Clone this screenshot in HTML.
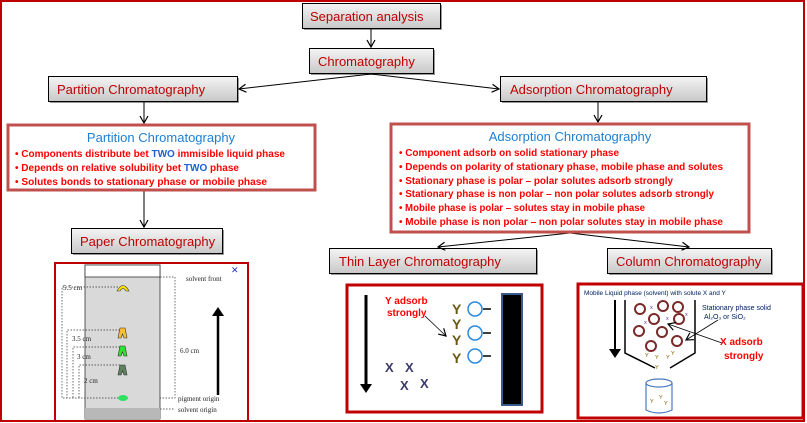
<!DOCTYPE html>
<html><head><meta charset="utf-8"><style>
body{margin:0;background:#fff;}
svg{display:block;font-family:"Liberation Sans",sans-serif;}
</style></head><body>
<svg width="807" height="423" viewBox="0 0 807 423" xmlns="http://www.w3.org/2000/svg">
<defs>
<linearGradient id="g" x1="0" y1="0" x2="0" y2="1"><stop offset="0" stop-color="#f4f4f4"/><stop offset="1" stop-color="#c8c8c8"/></linearGradient>
<marker id="a" markerWidth="10" markerHeight="10" refX="8" refY="5" orient="auto" markerUnits="userSpaceOnUse"><path d="M1,1 L8,5 L1,9" fill="none" stroke="#000" stroke-width="1.2"/></marker>
<marker id="b" markerWidth="12" markerHeight="12" refX="6" refY="6" orient="auto" markerUnits="userSpaceOnUse"><path d="M0,0 L9,6 L0,12 Z" fill="#000"/></marker>
</defs>
<rect x="1" y="1" width="803" height="420" fill="none" stroke="#c00000" stroke-width="2"/>

<g fill="#999">
<rect x="304" y="5" width="138" height="25"/>
<rect x="311" y="50" width="124" height="25"/>
<rect x="50" y="78" width="189" height="25"/>
<rect x="502" y="78" width="206" height="25"/>
<rect x="73" y="230" width="151" height="25"/>
<rect x="331" y="250" width="207" height="25"/>
<rect x="609" y="250" width="164" height="25"/>
</g>
<g stroke="#000" stroke-width="1" fill="url(#g)">
<rect x="302.5" y="3.5" width="138" height="25"/>
<rect x="309.5" y="48.5" width="124" height="25"/>
<rect x="48.5" y="76.5" width="189" height="25"/>
<rect x="500.5" y="76.5" width="206" height="25"/>
<rect x="71.5" y="228.5" width="151" height="25"/>
<rect x="329.5" y="248.5" width="207" height="25"/>
<rect x="607.5" y="248.5" width="164" height="25"/>
</g>
<g fill="#c00000" font-size="13">
<text x="310" y="21">Separation analysis</text>
<text x="318" y="66">Chromatography</text>
<text x="57" y="94">Partition Chromatography</text>
<text x="510" y="94">Adsorption Chromatography</text>
<text x="80" y="246">Paper Chromatography</text>
<text x="339" y="266">Thin Layer Chromatography</text>
<text x="616" y="266">Column Chromatography</text>
</g>

<g stroke="#000" stroke-width="1" fill="none">
<line x1="371" y1="29" x2="371" y2="47" marker-end="url(#a)"/>
<line x1="371" y1="74" x2="239" y2="89" marker-end="url(#a)"/>
<line x1="371" y1="74" x2="499" y2="89" marker-end="url(#a)"/>
<line x1="144" y1="102" x2="144" y2="123" marker-end="url(#a)"/>
<line x1="598" y1="102" x2="598" y2="122" marker-end="url(#a)"/>
<line x1="144" y1="191" x2="144" y2="227" marker-end="url(#a)"/>
<line x1="570" y1="233" x2="438" y2="247" marker-end="url(#a)"/>
<line x1="570" y1="233" x2="689" y2="247" marker-end="url(#a)"/>
</g>

<rect x="8" y="125" width="307" height="65" fill="#fff" stroke="#c0504d" stroke-width="3"/>
<text x="161" y="142" text-anchor="middle" font-size="13" fill="#1f7fd0">Partition Chromatography</text>
<g font-size="10" font-weight="bold" fill="#ff0000">
<text x="15" y="157" textLength="270" lengthAdjust="spacingAndGlyphs">• Components distribute bet <tspan fill="#2060d0">TWO</tspan> immisible liquid phase</text>
<text x="15" y="171" textLength="224" lengthAdjust="spacingAndGlyphs">• Depends on relative solubility bet <tspan fill="#2060d0">TWO</tspan> phase</text>
<text x="15" y="185" textLength="252" lengthAdjust="spacingAndGlyphs">• Solutes bonds  to stationary phase  or mobile phase</text>
</g>

<rect x="391" y="124" width="358" height="108" fill="#fff" stroke="#c0504d" stroke-width="3"/>
<text x="570" y="141" text-anchor="middle" font-size="13" fill="#1f7fd0">Adsorption  Chromatography</text>
<g font-size="10" font-weight="bold" fill="#ff0000">
<text x="399" y="156" textLength="220" lengthAdjust="spacingAndGlyphs">• Component adsorb on solid stationary phase</text>
<text x="399" y="170" textLength="324" lengthAdjust="spacingAndGlyphs">• Depends on polarity of stationary phase, mobile phase and solutes</text>
<text x="399" y="184" textLength="274" lengthAdjust="spacingAndGlyphs">• Stationary phase is polar – polar solutes adsorb strongly</text>
<text x="399" y="197" textLength="315" lengthAdjust="spacingAndGlyphs">• Stationary phase is non polar – non polar solutes adsorb strongly</text>
<text x="399" y="211" textLength="246" lengthAdjust="spacingAndGlyphs">• Mobile phase is polar – solutes stay in mobile phase</text>
<text x="399" y="225" textLength="324" lengthAdjust="spacingAndGlyphs">• Mobile phase is non polar – non polar solutes stay in mobile phase</text>
</g>

<rect x="55" y="263" width="193" height="158" fill="#fff" stroke="#c00000" stroke-width="2"/>
<rect x="85" y="265" width="75" height="154" fill="#d9d9d9" stroke="#333" stroke-width="0.8"/>
<rect x="85" y="265" width="75" height="12" fill="#fff" stroke="#333" stroke-width="0.8"/>
<rect x="85" y="408" width="75" height="11" fill="#b8b8b8"/>
<g stroke="#333" stroke-width="0.7" stroke-dasharray="1.5,1.5" fill="none">
<path d="M160,277 H175 V398 H160"/>
<path d="M118,287 H62 V398 H118"/>
<path d="M120,330 H67 V398"/>
<path d="M120,347 H73 V398"/>
<path d="M120,365 H79 V398"/>
<path d="M160,409 H175"/>
</g>
<g font-family="Liberation Serif,serif" font-size="7" fill="#222">
<text x="186" y="281">solvent front</text>
<text x="63" y="290">5.5 cm</text>
<text x="72" y="341">3.5 cm</text>
<text x="77" y="359">3 cm</text>
<text x="84" y="383">2 cm</text>
<text x="180" y="353">6.0 cm</text>
<text x="178" y="401">pigment origin</text>
<text x="178" y="412">solvent origin</text>
</g>
<text x="231" y="273" font-size="9" fill="#2030c0">✕</text>
<path d="M117,291 Q123,280 129,291 L126,291 Q123,286 120,291Z" fill="#ffe000" stroke="#333" stroke-width="0.6"/>
<path d="M118,338 L120,328 L125,328 L127,338 L124,338 L122.5,334 L121,338Z" fill="#f8c030" stroke="#333" stroke-width="0.6"/>
<path d="M118,356 L120,346 L125,346 L127,356 L124,356 L122.5,352 L121,356Z" fill="#30e030" stroke="#333" stroke-width="0.6"/>
<path d="M118,375 L120,365 L125,365 L127,375 L124,375 L122.5,371 L121,375Z" fill="#608060" stroke="#333" stroke-width="0.6"/>
<ellipse cx="123" cy="398" rx="5" ry="3" fill="#30e060"/>
<line x1="218" y1="395" x2="218" y2="310" stroke="#000" stroke-width="2.5" marker-end="url(#b)"/>

<rect x="347" y="285" width="195" height="127" fill="#fff" stroke="#c00000" stroke-width="3"/>
<line x1="366" y1="295" x2="366" y2="390" stroke="#000" stroke-width="3" marker-end="url(#b)"/>
<text x="385" y="304" font-size="10" font-weight="bold" fill="#ff0000">Y adsorb</text>
<text x="387" y="316" font-size="10" font-weight="bold" fill="#ff0000">strongly</text>
<line x1="425" y1="316" x2="446" y2="336" stroke="#000" stroke-width="0.8" marker-end="url(#a)"/>
<rect x="502" y="294" width="20" height="111" fill="#000" stroke="#3a5a8a" stroke-width="2"/>
<g font-size="14" font-weight="bold" fill="#6a5a10">
<text x="452" y="314">Y</text><text x="452" y="329">Y</text><text x="452" y="345">Y</text><text x="452" y="363">Y</text>
</g>
<g fill="none" stroke="#2a8ae0" stroke-width="1.5">
<circle cx="475" cy="309" r="7"/><circle cx="475" cy="333" r="7"/><circle cx="475" cy="356" r="7"/>
</g>
<g stroke="#000" stroke-width="1.5"><line x1="483" y1="309" x2="491" y2="309"/><line x1="483" y1="333" x2="491" y2="333"/><line x1="483" y1="356" x2="491" y2="356"/></g>
<g font-size="13" font-weight="bold" fill="#3a3a6a">
<text x="385" y="372">X</text><text x="405" y="372">X</text><text x="400" y="390">X</text><text x="420" y="388">X</text>
</g>

<rect x="578" y="284" width="225" height="134" fill="#fff" stroke="#c00000" stroke-width="3"/>
<text x="584" y="295" font-size="6.5" fill="#002060">Mobile Liquid phase (solvent) with solute X and Y</text>
<line x1="615" y1="300" x2="615" y2="355" stroke="#000" stroke-width="2" marker-end="url(#b)"/>
<path d="M625,300 V353 L655,368 M695,300 V353 L670,368" fill="none" stroke="#000" stroke-width="1.5"/>
<g fill="none" stroke="#7a2a2a" stroke-width="2">
<circle cx="640" cy="309" r="5"/><circle cx="663" cy="306" r="5"/><circle cx="678" cy="307" r="5"/>
<circle cx="654" cy="319" r="5"/><circle cx="679" cy="319" r="5"/><circle cx="639" cy="331" r="5"/>
<circle cx="662" cy="332" r="5"/><circle cx="651" cy="346" r="5"/><circle cx="677" cy="341" r="5"/>
</g>
<g font-size="5.5" fill="#7030a0"><text x="650" y="309">x</text><text x="644" y="324">x</text><text x="666" y="320">x</text><text x="685" y="316">x</text></g>
<g font-size="5.5" fill="#806000"><text x="645" y="357">Y</text><text x="655" y="359">Y</text><text x="666" y="359">Y</text><text x="671" y="355">Y</text><text x="655" y="369">Y</text></g>
<text x="702" y="310" font-size="7" fill="#002060">Stationary phase solid</text>
<text x="704" y="319" font-size="7" fill="#002060">Al₂O₃ or SiO₂</text>
<line x1="718" y1="320" x2="686" y2="340" stroke="#000" stroke-width="0.8" marker-end="url(#a)"/>
<line x1="722" y1="343" x2="668" y2="324" stroke="#000" stroke-width="0.8" marker-end="url(#a)"/>
<text x="720" y="345" font-size="10" font-weight="bold" fill="#ff0000">X adsorb</text>
<text x="724" y="359" font-size="10" font-weight="bold" fill="#ff0000">strongly</text>
<path d="M646,383 V410 Q659,416 672,410 V383" fill="#fff" stroke="#4a7ac0" stroke-width="1.2"/>
<ellipse cx="659" cy="383" rx="13" ry="4" fill="#fff" stroke="#4a7ac0" stroke-width="1.2"/>
<g font-size="5.5" fill="#806000"><text x="650" y="403">Y</text><text x="659" y="399">Y</text><text x="664" y="405">Y</text></g>
</svg>
</body></html>
